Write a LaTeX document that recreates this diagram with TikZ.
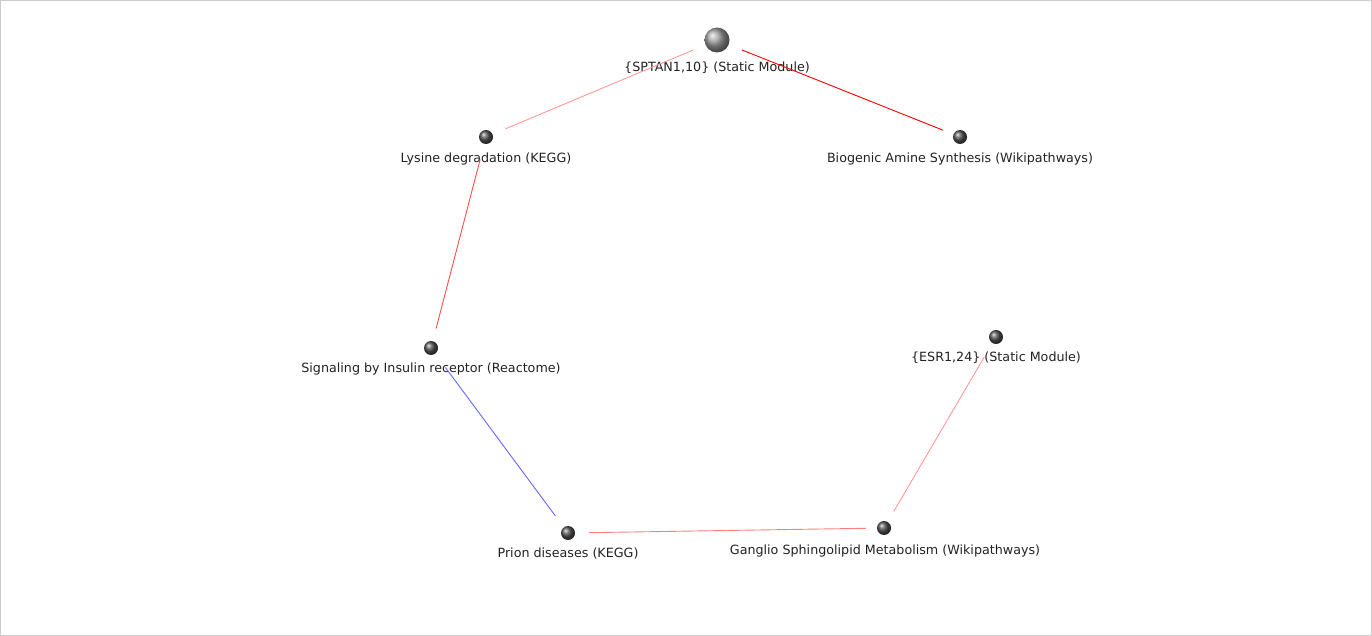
\documentclass[tikz,border=0pt]{standalone}
\usepackage{fontspec}
\setmainfont{DejaVu Sans}
\definecolor{edgeA}{HTML}{FF9999}
\definecolor{edgeB}{HTML}{FF0000}
\definecolor{edgeC}{HTML}{FF4D4D}
\definecolor{edgeD}{HTML}{6666FF}
\definecolor{edgeE}{HTML}{FF7F7F}
\definecolor{txt}{HTML}{222222}
\definecolor{frame}{HTML}{CCCCCC}
\begin{document}
\begin{tikzpicture}[x=1pt,y=-1pt,
  bignode/.style={circle,minimum size=25pt,inner sep=0pt,shading=ball,ball color=black!38},
  smallnode/.style={circle,minimum size=14pt,inner sep=0pt,shading=ball,ball color=black!68},
  lbl/.style={font=\fontsize{12.7}{15}\selectfont,text=txt,inner sep=0pt,anchor=center},
  edge/.style={line width=0.9pt}]
\useasboundingbox (0,0) rectangle (1372,636);
\draw[frame,line width=1pt] (0.5,0.5) rectangle (1371.5,635.5);
% nodes
\node[bignode] (sp) at (717,40) {};
\node[smallnode] (ly) at (486,137) {};
\node[smallnode] (bi) at (960,137) {};
\node[smallnode] (in) at (431,348) {};
\node[smallnode] (es) at (996,337) {};
\node[smallnode] (pr) at (568,533) {};
\node[smallnode] (ga) at (884,528) {};
% labels
\node[lbl] (spL) at (717,67.5) {\{SPTAN1,10\} (Static Module)};
\node[lbl] (lyL) at (486,158.5) {Lysine degradation (KEGG)};
\node[lbl] (biL) at (960,158.5) {Biogenic Amine Synthesis (Wikipathways)};
\node[lbl] (inL) at (431,368.5) {Signaling by Insulin receptor (Reactome)};
\node[lbl] (esL) at (996,357.5) {\{ESR1,24\} (Static Module)};
\node[lbl] (prL) at (568,553.5) {Prion diseases (KEGG)};
\node[lbl] (gaL) at (885,550.5) {Ganglio Sphingolipid Metabolism (Wikipathways)};
% edges
\draw[edge,edgeA,shorten <=13pt,shorten >=14pt] (sp) -- (ly);
\draw[edge,edgeB,shorten <=14pt,shorten >=11pt] (sp) -- (bi);
\draw[edge,edgeC,shorten <=16pt,shorten >=13pt] (ly) -- (in);
\draw[edge,edgeD,shorten <=17pt,shorten >=14pt] (in) -- (pr);
\draw[edge,edgeE,shorten <=14pt,shorten >=11pt] (pr) -- (ga);
\draw[edge,edgeA,shorten <=12pt,shorten >=16pt] (ga) -- (es);
\end{tikzpicture}
\end{document}
